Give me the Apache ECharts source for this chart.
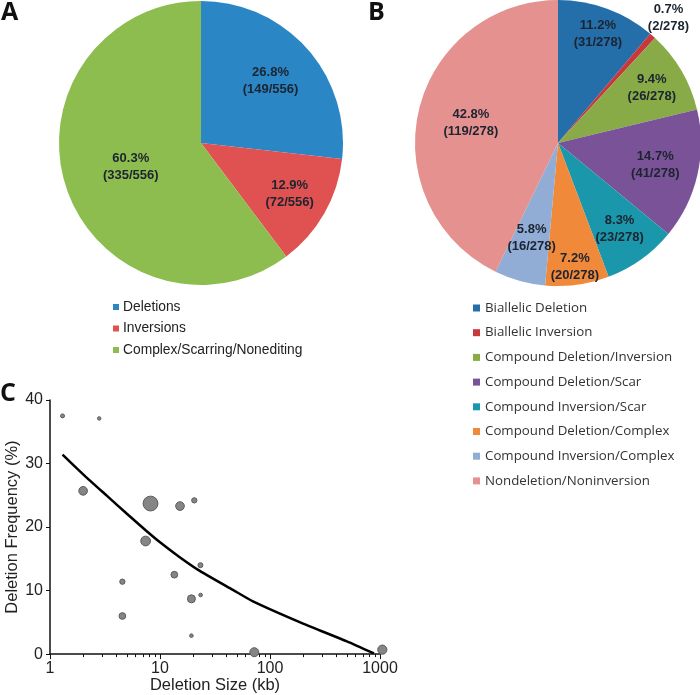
<!DOCTYPE html>
<html>
<head>
<meta charset="utf-8">
<script src="https://cdn.jsdelivr.net/npm/echarts@6/dist/echarts.min.js"></script>
<style>
  html, body { margin: 0; padding: 0; background: #fff; }
  #main { width: 700px; height: 695px; }
</style>
</head>
<body>
<div id="main"></div>
<script>
// panel A
var catA = ['Deletions', 'Inversions', 'Complex/Scarring/Nonediting']
var countA = [149, 72, 335]
// panel B
var catB = ['Biallelic Deletion', 'Biallelic Inversion', 'Compound Deletion/Inversion',
  'Compound Deletion/Scar', 'Compound Inversion/Scar', 'Compound Deletion/Complex',
  'Compound Inversion/Complex', 'Nondeletion/Noninversion']
var countB = [31, 2, 26, 41, 23, 20, 16, 119]
// panel C: [deletion size kb, deletion frequency %, weight]
var bubbles = [
  [1.3, 37.5, 16], [2.8, 37.1, 12], [2.0, 25.7, 75], [8.2, 23.7, 220],
  [15.2, 23.3, 75], [20.5, 24.2, 28], [7.4, 17.8, 95], [23.3, 14.0, 25],
  [13.5, 12.5, 45], [4.55, 11.4, 28], [19.3, 8.7, 64], [23.4, 9.3, 13],
  [4.55, 6.0, 45], [19.3, 2.9, 13], [72, 0.3, 80], [1050, 0.7, 85]
]
var fitLine = [
  [1.3, 31.4], [2, 28.3], [3.3, 24.9], [5, 22.1], [7.4, 19.5], [10, 17.6],
  [15, 15.3], [23, 13.1], [46, 10.1], [70, 8.3], [200, 4.8], [500, 2.0], [880, 0.1]
]
var yTicks = [0, 10, 20, 30, 40]

var colorsA = ['#2b86c5', '#e05252', '#8dbd4f']
var colorsB = ['#246ea9', '#c8373b', '#88ab47', '#7a5297', '#1b97ab', '#f0893a', '#91acd5', '#e4918f']

function sum (a) { return a.reduce(function (s, v) { return s + v }, 0) }

function pieData (cats, vals, cols) {
  return cats.map(function (c, i) {
    return { name: c, value: vals[i], itemStyle: { color: cols[i] } }
  })
}

function pctLabel (vals) {
  var total = sum(vals)
  return function (p) {
    return (p.value / total * 100).toFixed(1) + '%\n(' + p.value + '/' + total + ')'
  }
}

// move each inside label radially to its own distance from the centre
function labelAt (cx, cy, factors) {
  return function (p) {
    var r = p.labelRect
    var lx = r.x + r.width / 2, ly = r.y + r.height / 2
    var k = factors[p.dataIndex] / 0.5 - 1
    return { dx: (lx - cx) * k, dy: (ly - cy) * k }
  }
}

var labelStyle = {
  show: true,
  position: 'inside',
  fontFamily: 'Liberation Sans',
  fontWeight: 'bold',
  fontSize: 13,
  lineHeight: 17,
  color: '#1c2430'
}

var letterStyle = { fontFamily: 'Open Sans', fontWeight: 'bold', fontSize: 25, color: '#111' }
var axisFont = 'Liberation Sans'

var myChart = echarts.init(document.getElementById('main'))
var option = {
  animation: false,
  title: [
    { text: 'A', left: 1, top: 0, padding: 0, textStyle: letterStyle },
    { text: 'B', left: 368, top: 0, padding: 0, textStyle: letterStyle },
    { text: 'C', left: 0, top: 381, padding: 0, textStyle: letterStyle }
  ],
  legend: [
    {
      data: catA, orient: 'vertical', left: 113, top: 300, padding: 0,
      itemWidth: 6, itemHeight: 6, itemGap: 7.5, icon: 'rect',
      itemStyle: { borderWidth: 0 },
      textStyle: { fontFamily: 'Liberation Sans', fontSize: 13.8, lineHeight: 14, color: '#222', padding: [0, 0, 0, -1] },
      selectedMode: false
    },
    {
      data: catB, orient: 'vertical', left: 473, top: 301, padding: 0,
      itemWidth: 7, itemHeight: 7, itemGap: 10.7, icon: 'rect',
      itemStyle: { borderWidth: 0 },
      textStyle: { fontFamily: 'Open Sans', fontSize: 13.3, lineHeight: 14, color: '#333' },
      selectedMode: false
    }
  ],
  grid: { left: 50, top: 400, width: 330, height: 255 },
  xAxis: {
    type: 'log', logBase: 10, min: 1, max: 1000,
    name: 'Deletion Size (kb)', nameLocation: 'middle', nameGap: 21,
    nameTextStyle: { fontFamily: axisFont, fontSize: 16.5, color: '#222' },
    axisLine: { show: true, lineStyle: { color: '#111', width: 1.5 } },
    axisTick: { show: true, inside: false, length: 5, lineStyle: { color: '#111' } },
    minorTick: { show: true, splitNumber: 9, length: 3, lineStyle: { color: '#111' } },
    axisLabel: {
      fontFamily: axisFont, fontSize: 16, color: '#222', margin: 6,
      formatter: function (v) { return String(Math.round(v)) }
    },
    splitLine: { show: false },
    minorSplitLine: { show: false }
  },
  yAxis: {
    type: 'value', min: yTicks[0], max: yTicks[yTicks.length - 1], interval: 10,
    name: 'Deletion Frequency (%)', nameLocation: 'middle', nameGap: 29,
    nameTextStyle: { fontFamily: axisFont, fontSize: 16.5, color: '#222' },
    axisLine: { show: true, lineStyle: { color: '#111', width: 1.5 } },
    axisTick: { show: true, inside: false, length: 4, lineStyle: { color: '#111' } },
    axisLabel: { fontFamily: axisFont, fontSize: 16, color: '#222', margin: 7 },
    splitLine: { show: false }
  },
  series: [
    {
      type: 'pie', silent: true,
      center: [201, 143], radius: [0, 142],
      startAngle: 90, clockwise: true,
      data: pieData(catA, countA, colorsA),
      itemStyle: { borderWidth: 0 },
      label: Object.assign({ formatter: pctLabel(countA) }, labelStyle),
      labelLine: { show: false },
      labelLayout: labelAt(201, 143, [0.63, 0.69, 0.5]),
      emphasis: { disabled: true }
    },
    {
      type: 'pie', silent: true,
      center: [558, 143], radius: [0, 143],
      startAngle: 90, clockwise: true,
      data: pieData(catB, countB, colorsB),
      itemStyle: { borderWidth: 0 },
      label: Object.assign({ formatter: pctLabel(countB) }, labelStyle),
      labelLine: { show: false },
      labelLayout: labelAt(558, 143, [0.78, 1.12, 0.73, 0.67, 0.71, 0.84, 0.66, 0.6]),
      emphasis: { disabled: true }
    },
    {
      type: 'line', silent: true,
      data: fitLine, showSymbol: false, symbol: 'none', smooth: 0.2,
      lineStyle: { color: '#000', width: 2.5 },
      z: 3
    },
    {
      type: 'scatter', silent: true, clip: false,
      data: bubbles,
      symbolSize: function (d) { return Math.sqrt(d[2]) },
      itemStyle: { color: '#858585', borderColor: '#5a5a5a', borderWidth: 1, opacity: 1 },
      z: 2
    }
  ]
}
myChart.setOption(option)
</script>
</body>
</html>
